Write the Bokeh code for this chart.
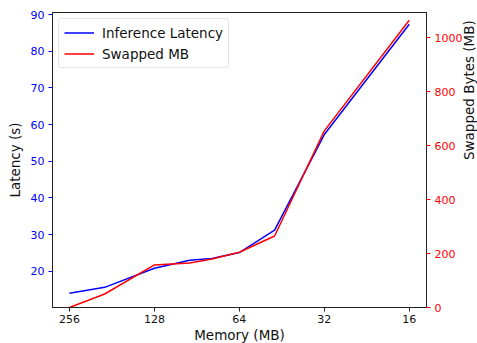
from bokeh.plotting import figure
from bokeh.models import Range1d, LinearAxis, FixedTicker, Legend, LegendItem, CustomJSTickFormatter
from bokeh.embed import file_html
from bokeh.resources import INLINE

memory_mb = [256, 192, 128, 96, 80, 64, 48, 32, 16]
latency_s = [14.0, 15.6, 20.8, 23.0, 23.5, 25.1, 31.2, 57.3, 87.4]
swapped_mb = [0, 50, 158, 165, 180, 205, 265, 655, 1065]
x_ticks = [256, 128, 64, 32, 16]
left_ticks = [20, 30, 40, 50, 60, 70, 80, 90]
right_ticks = [0, 200, 400, 600, 800, 1000]

FONT = "DejaVu Sans"
TXT = "#111111"

p = figure(frame_width=374, frame_height=295, output_backend="svg", toolbar_location=None,
           x_axis_type="log", x_range=Range1d(294, 13.9), y_range=Range1d(10.1, 90.6),
           min_border_left=52, min_border_right=51, min_border_top=12, min_border_bottom=35)
p.extra_y_ranges = {"swap": Range1d(0, 1094)}

p.xgrid.visible = False
p.ygrid.visible = False
p.outline_line_color = "#222222"
p.outline_line_width = 1
p.background_fill_color = "white"
p.border_fill_color = "white"

r1 = p.line(memory_mb, latency_s, line_color="blue", line_width=1.5)
r2 = p.line(memory_mb, swapped_mb, line_color="red", line_width=1.5, y_range_name="swap")

# x axis
xa = p.xaxis[0]
xa.ticker = FixedTicker(ticks=x_ticks, minor_ticks=[])
xa.axis_label = "Memory (MB)"
xa.axis_label_text_font = FONT
xa.axis_label_text_font_style = "normal"
xa.axis_label_text_font_size = "13.5px"
xa.axis_label_text_color = TXT
xa.axis_label_standoff = 1
xa.major_label_text_font = FONT
xa.major_label_text_font_size = "11px"
xa.major_label_text_color = TXT
xa.major_label_standoff = 3
xa.major_tick_in = 0
xa.major_tick_out = 4
xa.minor_tick_line_color = None
xa.axis_line_color = "#222222"
xa.major_tick_line_color = "#222222"
xa.formatter = CustomJSTickFormatter(code="return String(Math.round(tick));")

# left axis
ya = p.yaxis[0]
ya.ticker = FixedTicker(ticks=left_ticks, minor_ticks=[])
ya.axis_label = "Latency (s)"
ya.axis_label_text_font = FONT
ya.axis_label_text_font_style = "normal"
ya.axis_label_text_font_size = "13.5px"
ya.axis_label_text_color = TXT
ya.axis_label_standoff = 5
ya.major_label_text_font = FONT
ya.major_label_text_font_size = "11px"
ya.major_label_text_color = "blue"
ya.major_label_standoff = 4
ya.major_tick_in = 0
ya.major_tick_out = 4
ya.major_tick_line_color = "blue"
ya.minor_tick_line_color = None
ya.axis_line_color = "#222222"

# right axis
ra = LinearAxis(y_range_name="swap", ticker=FixedTicker(ticks=right_ticks, minor_ticks=[]))
ra.axis_label = "Swapped Bytes (MB)"
ra.axis_label_orientation = 1.5707963
ra.axis_label_text_font = FONT
ra.axis_label_text_font_style = "normal"
ra.axis_label_text_font_size = "13.5px"
ra.axis_label_text_color = TXT
ra.axis_label_standoff = 4
ra.major_label_text_font = FONT
ra.major_label_text_font_size = "11px"
ra.major_label_text_color = "red"
ra.major_label_standoff = 4
ra.major_tick_in = 0
ra.major_tick_out = 4
ra.major_tick_line_color = "red"
ra.minor_tick_line_color = None
ra.axis_line_color = "#222222"
p.add_layout(ra, "right")

legend = Legend(items=[LegendItem(label="Inference Latency", renderers=[r1]),
                       LegendItem(label="Swapped MB", renderers=[r2])],
                location="top_left")
legend.label_text_font = FONT
legend.label_text_font_size = "13.5px"
legend.label_text_color = TXT
legend.label_height = 17
legend.glyph_width = 30
legend.glyph_height = 17
legend.spacing = 4
legend.padding = 5
legend.margin = 6
legend.label_standoff = 8
legend.border_line_color = "#cccccc"
legend.border_line_width = 1
legend.border_radius = 3
legend.background_fill_alpha = 0.9
p.add_layout(legend)

open("out.html", "w").write(file_html(p, INLINE))
